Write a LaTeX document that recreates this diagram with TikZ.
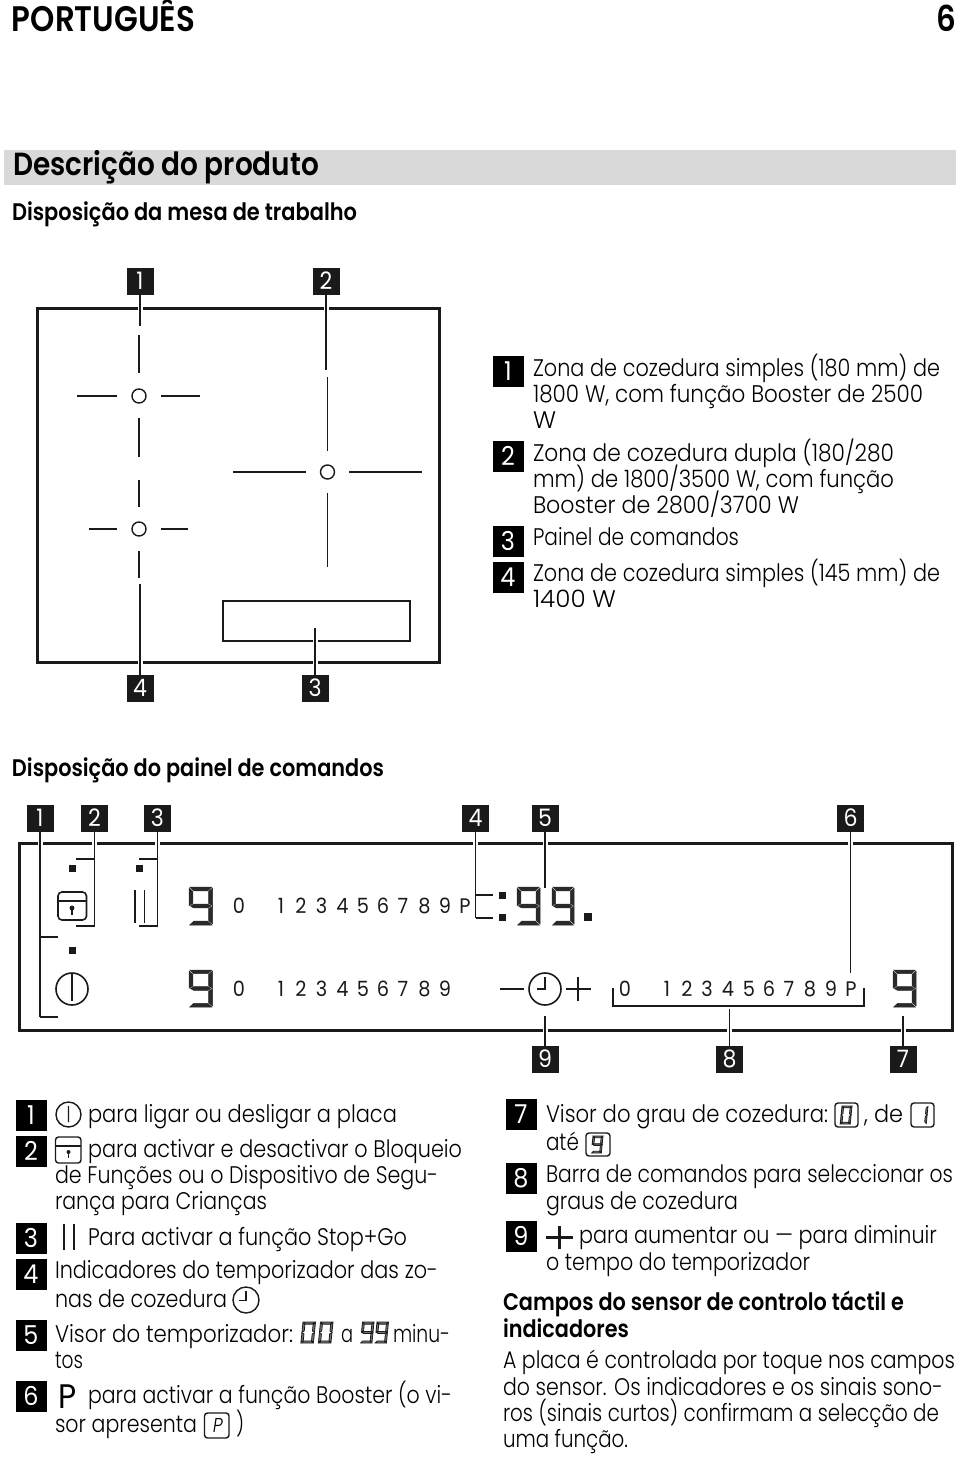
\documentclass[tikz,border=0pt]{standalone}
\usepackage{fontspec}
\usepackage{graphicx}
\setmainfont[FakeStretch=0.87,BoldFont={Poppins SemiBold},BoldFeatures={FakeStretch=0.873}]{Poppins Light}
\newfontfamily\numfont[FakeStretch=0.92]{Poppins}
\definecolor{ink}{HTML}{1A1A1A}
\definecolor{band}{HTML}{D9D9D9}
\definecolor{seg}{HTML}{2A2A2A}
\tikzset{
  txt/.style={anchor=base west,inner sep=0pt,outer sep=0pt,text=black,font=\fontsize{24}{24}\selectfont},
  hd/.style={txt,font=\bfseries\fontsize{24}{24}\selectfont},
  num/.style={anchor=base,inner sep=0pt,outer sep=0pt,text=ink,font=\numfont\fontsize{21}{21}\selectfont},
  badge/.style={fill=ink,text=white,inner sep=0pt,outer sep=0pt,minimum size=27pt,font=\numfont\fontsize{24}{24}\selectfont},
  lbadge/.style={fill=black,text=white,inner sep=0pt,outer sep=0pt,minimum size=31pt,font=\numfont\fontsize{26}{26}\selectfont},
  frame/.style={draw=ink,line width=3pt},
  thin line/.style={draw=ink,line width=1.4pt},
  leader/.style={draw=ink,line width=1.4pt,preaction={draw=white,line width=5pt}},
  icon/.style={draw=ink,line width=1.4pt},
  led/.style={fill=ink,inner sep=0pt,outer sep=0pt,minimum size=7pt},
  zc/.style={circle,draw=ink,line width=1.4pt,fill=white,inner sep=0pt,outer sep=0pt,minimum size=14pt},
  sg/.style={fill=seg,draw=seg,line width=.5pt},
  dig/.style={},
  inl/.style={xslant=.1,sg/.style={fill=black!55,draw=ink,line width=.8pt}},
}
% seven-segment digit: x y w h
\newcommand\dsega{\fill[sg] (.03,0)--(.97,0)--(.80,.10)--(.20,.10)--cycle;}
\newcommand\dsegd{\fill[sg] (.03,1)--(.97,1)--(.80,.90)--(.20,.90)--cycle;}
\newcommand\dsegg{\fill[sg] (.06,.5)--(.20,.45)--(.80,.45)--(.94,.5)--(.80,.55)--(.20,.55)--cycle;}
\newcommand\dsegf{\fill[sg] (0,.03)--(.17,.12)--(.17,.43)--(0,.49)--cycle;}
\newcommand\dsegb{\fill[sg] (1,.03)--(.83,.12)--(.83,.43)--(1,.49)--cycle;}
\newcommand\dsege{\fill[sg] (0,.51)--(.17,.57)--(.17,.88)--(0,.97)--cycle;}
\newcommand\dsegc{\fill[sg] (1,.51)--(.83,.57)--(.83,.88)--(1,.97)--cycle;}
\newcommand\dnine[5][dig]{\begin{scope}[shift={(#2,#3)},x=#4pt,y=-#5pt,#1]\dsega\dsegf\dsegb\dsegg\dsegc\dsegd\end{scope}}
\newcommand\dzero[5][dig]{\begin{scope}[shift={(#2,#3)},x=#4pt,y=-#5pt,#1]\dsega\dsegf\dsegb\dsege\dsegc\dsegd\end{scope}}
\newcommand\done[5][dig]{\begin{scope}[shift={(#2,#3)},x=#4pt,y=-#5pt,#1]\dsegb\dsegc\end{scope}}
% text line: name, left x, baseline y, right x, text
\newcommand\tline[5]{\pgfmathsetlengthmacro\fitw{#4pt-#2pt}\node[txt] (#1) at (#2,#3) {\resizebox{\fitw}{\height}{#5}};}
% heading line: name, left x, baseline y, right x, size, text
\newcommand\bline[6]{\pgfmathsetlengthmacro\fitw{#4pt-#2pt}\node[hd,font=\bfseries\fontsize{#5}{#5}\selectfont] (#1) at (#2,#3) {\resizebox{\fitw}{\height}{#6}};}
\begin{document}
\begin{tikzpicture}[x=1pt,y=-1pt]
\useasboundingbox (0,0) rectangle (960,1458);
\fill[white] (0,0) rectangle (960,1458);
% headers
\bline{h1}{12}{32}{195}{35.5}{PORTUGUÊS}
\node[hd,font=\bfseries\fontsize{35.5}{35.5}\selectfont,anchor=base east] (h2) at (956,32) {6};
\fill[band] (4,150) rectangle (956,185);
\bline{h3}{13}{176}{319}{32}{Descrição do produto}
\bline{h4}{12}{220}{357}{24}{Disposição da mesa de trabalho}
\bline{h5}{12}{776}{384}{24}{Disposição do painel de comandos}
% cooktop
\draw[frame] (37,308) rectangle (439,662);
\draw[thin line] (223,601) rectangle (410,641);
\node[zc] (z1) at (139,396) {};
\node[zc] (z4) at (139,529) {};
\node[zc] (z2) at (327.5,472) {};
\draw[thin line] (139,335)--(139,373) (139,418)--(139,457) (77,396)--(117,396) (161,396)--(200,396);
\draw[thin line] (139,480)--(139,507) (139,551)--(139,578) (89,529)--(117,529) (161,529)--(188,529);
\draw[thin line] (327.5,377)--(327.5,451) (327.5,493)--(327.5,567) (233,472)--(306,472) (349,472)--(422,472);
\node[badge] (t1) at (140,281) {1};
\node[badge] (t2) at (326,281) {2};
\node[badge] (t4) at (140,688) {4};
\node[badge] (t3) at (315,688) {3};
\coordinate (t1e) at (140,326);
\coordinate (t2e) at (326,370);
\coordinate (t4e) at (140,584);
\coordinate (t3e) at (315,628);
\draw[leader] (t1.south)--(t1e);
\draw[leader] (t2.south)--(t2e);
\draw[leader] (t4.north)--(t4e);
\draw[leader] (t3.north)--(t3e);
% legend top
\node[lbadge] (a1) at (508,371) {1};
\node[lbadge] (a2) at (508,456) {2};
\node[lbadge] (a3) at (508,541) {3};
\node[lbadge] (a4) at (508,577) {4};
\tline{a1a}{533}{376}{940}{Zona de cozedura simples (180 mm) de}
\tline{a1b}{533}{402}{923}{1800 W, com função Booster de 2500}
\tline{a1c}{533}{428}{556}{W}
\tline{a2a}{533}{461}{894}{Zona de cozedura dupla (180/280}
\tline{a2b}{533}{487}{894}{mm) de 1800/3500 W, com função}
\tline{a2c}{533}{513}{799}{Booster de 2800/3700 W}
\tline{a3a}{533}{545}{739}{Painel de comandos}
\tline{a4a}{533}{581}{940}{Zona de cozedura simples (145 mm) de}
\tline{a4b}{533}{607}{616}{1400 W}
% control panel
\draw[frame] (19,843) rectangle (952,1030);
\node[led] (l1) at (72,868) {};
\node[led] (l2) at (139.5,868) {};
\node[led] (l3) at (72,950.5) {};
\node[led] (l4) at (502,895) {};
\node[led] (l5) at (502,917) {};
\node[led,minimum size=8pt] (l6) at (588,917) {};
\draw[icon,line width=1.6pt,rounded corners=4pt] (58,892) rectangle (86.5,920);
\draw[icon,line width=1.6pt] (58,901)--(86.5,901);
\fill[ink] (72,908) circle (2.4);
\draw[ink,line width=1.6pt] (72,908)--(72,915);
\draw[icon,line width=1.6pt] (135,890)--(135,923) (144.5,890)--(144.5,923);
\draw[icon,line width=1.6pt] (72,989) circle (16);
\draw[icon,line width=1.6pt] (72,973)--(72,1001);
\dnine{189}{887}{23.5}{38}
\dnine{189}{970}{23.5}{37}
\dnine{517}{887}{23}{38}
\dnine{552}{887}{22}{38}
\dnine{893}{970}{23}{37}
\foreach \n/\x/\t in {a/239/0,b/281/1,c/301/2,d/321.5/3,e/342.5/4,f/363/5,g/383/6,h/403/7,i/424.5/8,j/445/9,k/465/P}
  \node[num] (r\n) at (\x,913.5) {\t};
\foreach \n/\x/\t in {a/239/0,b/281/1,c/301/2,d/321.5/3,e/342.5/4,f/363/5,g/383/6,h/403/7,i/424.5/8,j/445/9}
  \node[num] (s\n) at (\x,996) {\t};
\foreach \n/\x/\t in {a/625/0,b/667/1,c/687/2,d/707/3,e/728/4,f/749/5,g/769/6,h/789/7,i/810/8,j/831/9,k/851/P}
  \node[num] (u\n) at (\x,996) {\t};
\draw[icon,line width=1.6pt] (545,989) circle (16);
\draw[icon,line width=1.6pt] (545,977)--(545,989)--(537,989);
\draw[icon,line width=1.6pt] (500,989)--(524,989) (566,989)--(591,989) (578,977)--(578,1001);
\draw[thin line] (613,988)--(613,1006)--(864,1006)--(864,988);
\node[badge] (p1) at (40,818) {1};
\node[badge] (p2) at (94.5,818) {2};
\node[badge] (p3) at (157.5,818) {3};
\node[badge] (p4) at (475.5,818) {4};
\node[badge] (p5) at (545,818) {5};
\node[badge] (p6) at (850.5,818) {6};
\node[badge] (p9) at (545,1059) {9};
\node[badge] (p8) at (729.5,1059) {8};
\node[badge] (p7) at (903,1059) {7};
\coordinate (p1a) at (40,937); \coordinate (p1b) at (58,937);
\coordinate (p1c) at (40,1017); \coordinate (p1d) at (58,1017);
\coordinate (p2a) at (94.5,859); \coordinate (p2b) at (76,859);
\coordinate (p2c) at (94.5,926); \coordinate (p2d) at (76,926);
\coordinate (p3a) at (157.5,859); \coordinate (p3b) at (139,859);
\coordinate (p3c) at (157.5,926); \coordinate (p3d) at (139,926);
\coordinate (p4a) at (475.5,895); \coordinate (p4b) at (493,895);
\coordinate (p4c) at (475.5,918); \coordinate (p4d) at (493,918);
\coordinate (p5e) at (545,888); \coordinate (p6e) at (850.5,973);
\coordinate (p9e) at (545,1016); \coordinate (p8e) at (729.5,1009); \coordinate (p7e) at (903,1016);
\draw[leader] (p1.south)--(p1c);
\draw[thin line] (p1a)--(p1b) (p1c)--(p1d);
\draw[leader] (p2.south)--(p2c);
\draw[thin line] (p2a)--(p2b) (p2c)--(p2d);
\draw[leader] (p3.south)--(p3c);
\draw[thin line] (p3a)--(p3b) (p3c)--(p3d);
\draw[leader] (p4.south)--(p4c);
\draw[thin line] (p4a)--(p4b) (p4c)--(p4d);
\draw[leader] (p5.south)--(p5e);
\draw[leader] (p6.south)--(p6e);
\draw[leader] (p9.north)--(p9e);
\draw[leader] (p8.north)--(p8e);
\draw[leader] (p7.north)--(p7e);
% legend left
\node[lbadge] (b1) at (31,1115) {1};
\node[lbadge] (b2) at (31,1151) {2};
\node[lbadge] (b3) at (31,1238) {3};
\node[lbadge] (b4) at (31,1274) {4};
\node[lbadge] (b5) at (31,1335) {5};
\node[lbadge] (b6) at (31,1396) {6};
\draw[icon] (68.5,1114.5) circle (12.5) (68.5,1106)--(68.5,1122);
\draw[icon,rounded corners=3pt] (55.5,1137) rectangle (81,1163);
\draw[icon] (55.5,1146)--(81,1146);
\fill[ink] (68.5,1152) circle (2); \draw[ink,line width=1.4pt] (68.5,1152)--(68.5,1158);
\tline{b1a}{88}{1122}{397}{para ligar ou desligar a placa}
\tline{b2a}{88}{1157}{462}{para activar e desactivar o Bloqueio}
\tline{b2b}{55}{1183}{438}{de Funções ou o Dispositivo de Segu-}
\tline{b2c}{55}{1209}{267}{rança para Crianças}
\draw[icon] (64,1224)--(64,1250) (74,1224)--(74,1250);
\tline{b3a}{88}{1245}{407}{Para activar a função Stop+Go}
\tline{b4a}{55}{1278}{438}{Indicadores do temporizador das zo-}
\tline{b4b}{55}{1307}{227}{nas de cozedura}
\draw[icon] (246,1300) circle (13);
\draw[icon] (246,1291)--(246,1300.5)--(239,1300.5);
\tline{b5a}{55}{1342}{293}{Visor do temporizador:}
\dzero[inl]{303}{1322}{12.5}{21}
\dzero[inl]{320.5}{1322}{12.5}{21}
\tline{b5b}{341}{1342}{353}{a}
\dnine[inl]{362.5}{1322}{11.5}{21}
\dnine[inl]{377}{1322}{11.5}{21}
\tline{b5c}{393}{1342}{450}{minu-}
\tline{b5d}{55}{1368}{83}{tos}
\node[txt,font=\numfont\fontsize{34}{34}\selectfont] (b6p) at (58,1408) {P};
\tline{b6a}{88}{1403}{452}{para activar a função Booster (o vi-}
\tline{b6b}{55}{1432}{197}{sor apresenta}
\draw[icon,rounded corners=3pt] (204.5,1413) rectangle (229,1438);
\node[txt,xslant=.15,font=\fontsize{20}{20}\selectfont] (b6q) at (212,1432.5) {P};
\tline{b6c}{236}{1432}{244}{)}
% legend right
\node[lbadge] (c7) at (521,1114) {7};
\node[lbadge] (c8) at (521,1178) {8};
\node[lbadge] (c9) at (521,1236) {9};
\tline{c7a}{546}{1122}{828}{Visor do grau de cozedura:}
\draw[icon,rounded corners=3pt] (835,1103) rectangle (858,1127);
\dzero[inl]{842}{1106}{10}{18}
\tline{c7b}{864}{1122}{903}{, de}
\draw[icon,rounded corners=3pt] (911,1103) rectangle (934,1127);
\done[inl]{918}{1106}{10}{18}
\tline{c7c}{546}{1150}{579}{até}
\draw[icon,rounded corners=3pt] (586,1133) rectangle (610,1156);
\dnine[inl]{593}{1136}{10}{17}
\tline{c8a}{546}{1182}{953}{Barra de comandos para seleccionar os}
\tline{c8b}{546}{1209}{738}{graus de cozedura}
\draw[icon,line width=2.2pt] (546,1237.5)--(573,1237.5) (559.5,1226)--(559.5,1249);
\tline{c9a}{579}{1243}{937}{para aumentar ou — para diminuir}
\tline{c9b}{546}{1270}{810}{o tempo do temporizador}
\bline{d1}{503}{1310}{904}{24}{Campos do sensor de controlo táctil e}
\bline{d2}{503}{1337}{629}{24}{indicadores}
\tline{d3}{503}{1368}{955}{A placa é controlada por toque nos campos}
\tline{d4}{503}{1395}{943}{do sensor. Os indicadores e os sinais sono-}
\tline{d5}{503}{1421}{939}{ros (sinais curtos) confirmam a selecção de}
\tline{d6}{503}{1447}{628}{uma função.}
\end{tikzpicture}
\end{document}
